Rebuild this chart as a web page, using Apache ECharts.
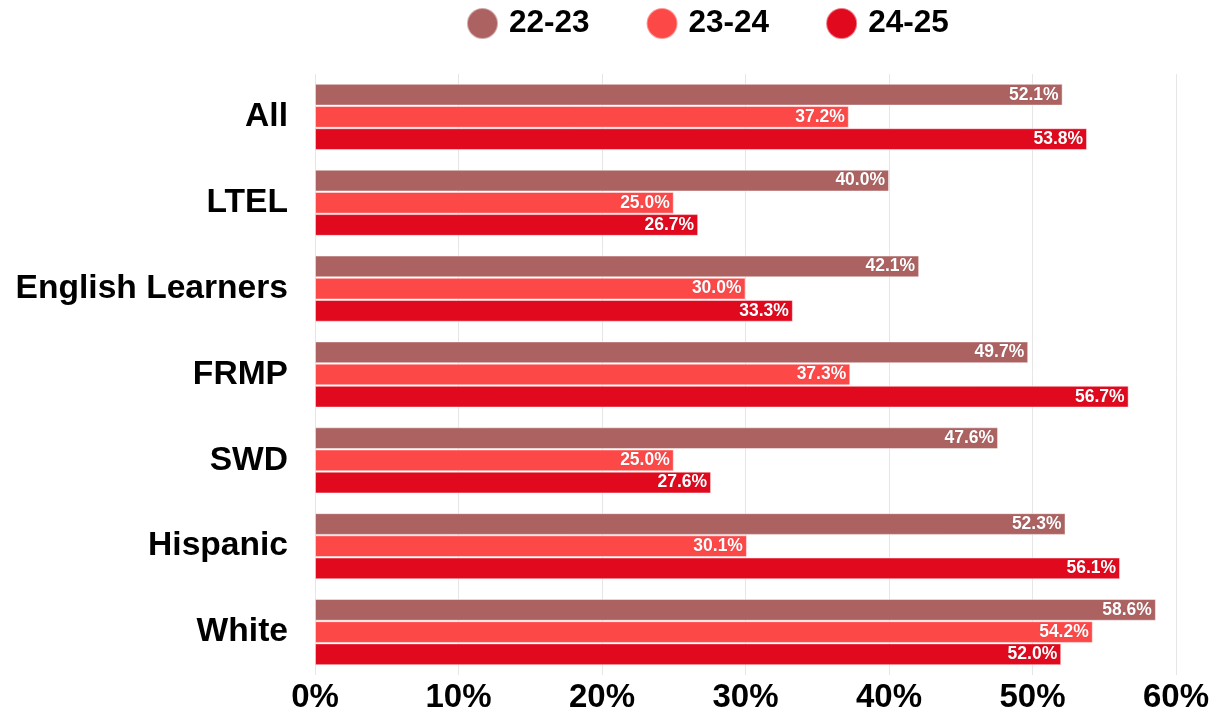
<!DOCTYPE html>
<html><head><meta charset="utf-8">
<script src="https://cdn.jsdelivr.net/npm/echarts@6/dist/echarts.min.js"></script>
<style>html,body{margin:0;padding:0;background:#fff}#c{width:1218px;height:718px}</style>
</head><body><div id="c"></div>
<script>
const categories = ['All','LTEL','English Learners','FRMP','SWD','Hispanic','White'];
const seriesNames = ['22-23','23-24','24-25'];
const s2223 = [52.1, 40.0, 42.1, 49.7, 47.6, 52.3, 58.6];
const s2324 = [37.2, 25.0, 30.0, 37.3, 25.0, 30.1, 54.2];
const s2425 = [53.8, 26.7, 33.3, 56.7, 27.6, 56.1, 52.0];
const xTicks = [0, 10, 20, 30, 40, 50, 60];
const colors = ['#ad6262', '#fd4848', '#e0091e'];
const font = '"Liberation Sans", Arial, sans-serif';

const chart = echarts.init(document.getElementById('c'), null, {renderer:'canvas'});
const mk = (name, data, color) => ({
  name, type:'bar', data,
  barGap:'2%', barCategoryGap:'23%',
  itemStyle:{color, borderColor:'rgba(255,255,255,0.45)', borderWidth:1},
  label:{show:true, position:'insideRight', distance:4, color:'#fff', fontFamily:font, fontWeight:'bold', fontSize:17.5,
    textShadowColor:'rgba(0,0,0,0.25)', textShadowBlur:1,
    formatter: p => p.value.toFixed(1) + '%'}
});
chart.setOption({
  animation:false,
  color: colors,
  legend:{
    top:2, left:461, icon:'circle', itemWidth:31, itemHeight:31, itemGap:56,
    data: seriesNames,
    textStyle:{fontFamily:font, fontWeight:'bold', fontSize:31.5, color:'#000', padding:[0,0,0,6]}
  },
  grid:{left:315, right:42, top:74, bottom:43, containLabel:false},
  xAxis:{
    type:'value', min:xTicks[0], max:xTicks[xTicks.length-1], interval:10,
    axisLine:{show:false}, axisTick:{show:false},
    splitLine:{show:true, lineStyle:{color:'#e6e6e6', width:1}},
    axisLabel:{formatter: v => v + '%', fontFamily:font, fontWeight:'bold', fontSize:33, color:'#000', margin:6}
  },
  yAxis:{
    type:'category', data:categories, inverse:true,
    axisLine:{show:false}, axisTick:{show:false},
    axisLabel:{fontFamily:font, fontWeight:'bold', fontSize:33.6, color:'#000', margin:27}
  },
  series:[mk(seriesNames[0], s2223, colors[0]), mk(seriesNames[1], s2324, colors[1]), mk(seriesNames[2], s2425, colors[2])]
});
</script></body></html>
